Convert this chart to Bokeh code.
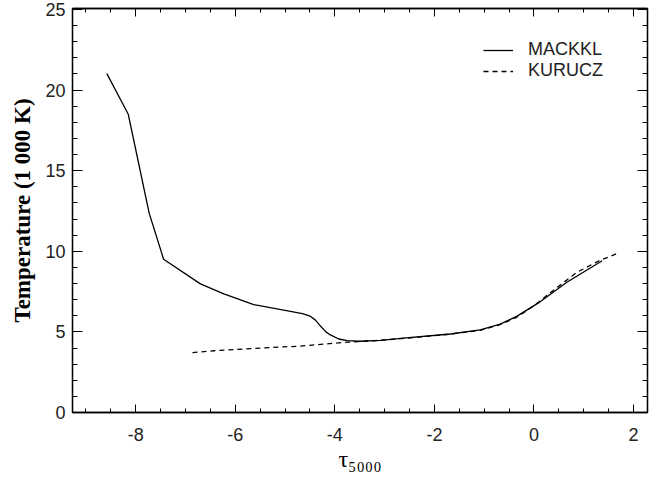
from bokeh.plotting import figure
from bokeh.models import Range1d, LinearAxis, SingleIntervalTicker, CustomJSTickFormatter
from bokeh.embed import file_html
from bokeh.resources import INLINE

# ---- data ----
mackkl_tau = [-8.58, -8.15, -7.73, -7.44, -6.70, -6.23, -5.63, -4.65, -4.50, -4.39,
              -4.30, -4.18, -4.09, -3.92, -3.75, -3.50, -3.08, -2.68, -1.68, -1.08,
              -0.68, -0.34, 0.13, 0.66, 1.37]
mackkl_T = [21.02, 18.50, 12.37, 9.51, 7.98, 7.36, 6.69, 6.13, 5.98, 5.73,
            5.40, 5.00, 4.81, 4.56, 4.46, 4.42, 4.48, 4.60, 4.87, 5.12,
            5.48, 5.98, 6.88, 8.08, 9.41]

kurucz_tau = [-6.86, -6.43, -5.29, -4.69, -3.75, -3.08, -2.68, -1.68, -1.08, -0.68,
              -0.34, 0.00, 0.30, 0.86, 1.30, 1.67]
kurucz_T = [3.72, 3.83, 4.03, 4.12, 4.36, 4.48, 4.58, 4.86, 5.10, 5.45,
            5.92, 6.62, 7.36, 8.69, 9.40, 9.86]

x_tick_values = [-8, -6, -4, -2, 0, 2]
x_tick_labels = ["-8", "-6", "-4", "-2", "0", "2"]
y_tick_values = [0, 5, 10, 15, 20, 25]
y_tick_labels = ["0", "5", "10", "15", "20", "25"]
series_names = ["MACKKL", "KURUCZ"]
x_title = "τ₅₀₀₀"
y_title = "Temperature (1 000 K)"

p = figure(width=666, height=477, output_backend="svg", toolbar_location=None,
           x_range=Range1d(-9.27, 2.28), y_range=Range1d(0, 25.06),
           min_border_left=72, min_border_right=19, min_border_top=8, min_border_bottom=65)
p.background_fill_color = "white"
p.border_fill_color = "white"
p.outline_line_color = "black"
p.outline_line_width = 1.3
p.xgrid.grid_line_color = None
p.ygrid.grid_line_color = None

p.add_layout(LinearAxis(), "above")
p.add_layout(LinearAxis(), "right")

for ax in p.xaxis:
    ax.ticker = SingleIntervalTicker(interval=2, num_minor_ticks=4)
    ax.major_tick_in = 8
    ax.major_tick_out = 0
    ax.minor_tick_in = 4
    ax.minor_tick_out = 0
for ax in p.yaxis:
    ax.ticker = SingleIntervalTicker(interval=5, num_minor_ticks=5)
    ax.major_tick_in = 10
    ax.major_tick_out = 0
    ax.minor_tick_in = 5
    ax.minor_tick_out = 0
for ax in list(p.xaxis) + list(p.yaxis):
    ax.axis_line_color = "black"
    ax.axis_line_width = 1.3
    ax.major_tick_line_color = "black"
    ax.minor_tick_line_color = "black"
    ax.major_label_text_font = "Liberation Sans"
    ax.major_label_text_font_size = "18px"
    ax.major_label_text_color = "#222222"

# top and right axes: ticks only
for ax in (p.above[0], p.right[0]):
    ax.formatter = CustomJSTickFormatter(code="return ''")
    ax.major_label_text_font_size = "1px"
    ax.major_label_standoff = 0

bx = p.below[0]
bx.major_label_overrides = dict(zip(x_tick_values, x_tick_labels))
bx.major_label_standoff = 15
bx.axis_label = x_title
bx.axis_label_text_font = "Liberation Serif"
bx.axis_label_text_font_style = "normal"
bx.axis_label_text_font_size = "24px"
bx.axis_label_text_color = "black"
bx.axis_label_standoff = 2

ly = p.left[0]
ly.major_label_overrides = dict(zip(y_tick_values, y_tick_labels))
ly.major_label_standoff = 7
ly.axis_label = y_title
ly.axis_label_text_font = "Liberation Serif"
ly.axis_label_text_font_style = "bold"
ly.axis_label_text_font_size = "23px"
ly.axis_label_text_color = "black"
ly.axis_label_standoff = 7

p.line(mackkl_tau, mackkl_T, line_color="black", line_width=1.3, legend_label=series_names[0])
p.line(kurucz_tau, kurucz_T, line_color="black", line_width=1.3, line_dash="5 4",
       legend_label=series_names[1])

lg = p.legend[0]
lg.location = (411, 331)
lg.border_line_color = None
lg.background_fill_alpha = 0
lg.padding = 0
lg.margin = 0
lg.spacing = 0
lg.glyph_width = 30
lg.glyph_height = 16
lg.label_height = 16
lg.label_standoff = 15
lg.label_text_font = "Liberation Sans"
lg.label_text_font_size = "18px"
lg.label_text_line_height = 0.85
lg.label_text_color = "#222222"

open("out.html", "w").write(file_html(p, INLINE))
